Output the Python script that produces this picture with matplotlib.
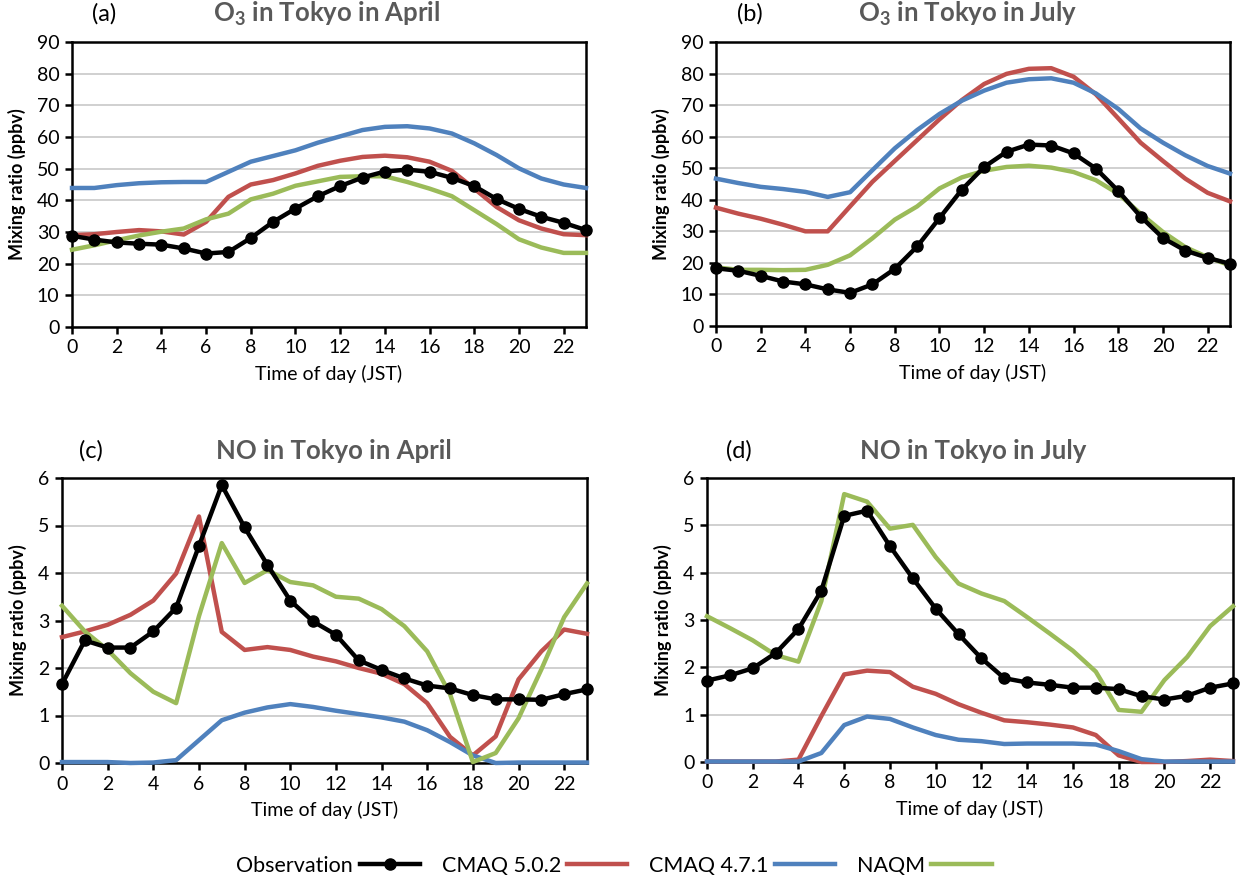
import matplotlib
matplotlib.use("Agg")
import matplotlib.pyplot as plt
from matplotlib.lines import Line2D

plt.rcParams['font.family'] = ['Lato', 'DejaVu Sans']
plt.rcParams['mathtext.fontset'] = 'custom'
plt.rcParams['mathtext.rm'] = 'Lato'
plt.rcParams['mathtext.bf'] = 'Lato:bold'

hours = list(range(24))

# (a) O3 April
obs_o3_apr = [28.8, 27.6, 26.7, 26.3, 26.0, 24.8, 23.2, 23.7, 28.1, 33.2, 37.4, 41.3,
              44.5, 47.2, 49.1, 49.7, 49.0, 47.1, 44.5, 40.4, 37.3, 34.8, 32.9, 30.6]
c502_o3_apr = [29.0, 29.3, 30.0, 30.6, 30.2, 29.2, 33.2, 41.1, 45.0, 46.4, 48.5, 50.9,
               52.5, 53.7, 54.1, 53.6, 52.2, 49.3, 43.7, 37.9, 33.7, 31.1, 29.3, 29.0]
c471_o3_apr = [43.9, 43.9, 44.8, 45.4, 45.7, 45.8, 45.8, 49.0, 52.2, 54.0, 55.8, 58.2,
               60.2, 62.2, 63.2, 63.4, 62.7, 61.1, 58.0, 54.3, 50.1, 46.9, 45.0, 43.9]
naqm_o3_apr = [24.4, 25.8, 27.4, 28.9, 30.1, 31.1, 34.0, 35.8, 40.3, 42.1, 44.6, 46.0,
               47.4, 47.6, 47.6, 45.8, 43.7, 41.3, 36.9, 32.5, 27.7, 25.1, 23.4, 23.4]

# (b) O3 July
obs_o3_jul = [18.3, 17.5, 15.9, 14.1, 13.2, 11.6, 10.5, 13.2, 18.1, 25.2, 34.2, 43.2,
              50.4, 55.2, 57.5, 57.2, 54.7, 49.9, 42.8, 34.7, 27.9, 23.9, 21.6, 19.7]
c502_o3_jul = [37.5, 35.6, 34.0, 32.1, 30.0, 30.0, 37.9, 45.7, 52.3, 58.9, 65.5, 71.6,
               76.7, 79.9, 81.5, 81.7, 79.0, 73.4, 65.8, 58.1, 52.3, 46.7, 42.2, 39.5]
c471_o3_jul = [46.7, 45.3, 44.1, 43.4, 42.5, 40.9, 42.4, 49.4, 56.3, 62.1, 67.2, 71.4,
               74.6, 77.1, 78.2, 78.5, 77.1, 73.7, 68.8, 62.6, 58.1, 54.1, 50.7, 48.3]
naqm_o3_jul = [18.6, 17.8, 17.8, 17.7, 17.8, 19.4, 22.4, 27.8, 33.7, 37.9, 43.6, 47.1,
               49.2, 50.4, 50.8, 50.2, 48.8, 46.2, 41.9, 35.6, 29.8, 25.0, 21.8, 19.2]

# (c) NO April
obs_no_apr = [1.66, 2.58, 2.43, 2.43, 2.77, 3.27, 4.57, 5.85, 4.96, 4.17, 3.42, 2.98,
              2.70, 2.16, 1.96, 1.78, 1.63, 1.57, 1.43, 1.34, 1.34, 1.33, 1.45, 1.55]
c502_no_apr = [2.65, 2.77, 2.91, 3.12, 3.42, 3.99, 5.19, 2.76, 2.38, 2.44, 2.38, 2.24,
               2.14, 2.00, 1.88, 1.66, 1.26, 0.55, 0.16, 0.56, 1.76, 2.35, 2.81, 2.72]
c471_no_apr = [0.02, 0.02, 0.02, 0.00, 0.01, 0.06, 0.48, 0.90, 1.06, 1.17, 1.24, 1.18,
               1.10, 1.03, 0.96, 0.87, 0.69, 0.44, 0.16, 0.00, 0.01, 0.01, 0.01, 0.01]
naqm_no_apr = [3.31, 2.77, 2.38, 1.89, 1.50, 1.26, 3.09, 4.63, 3.79, 4.06, 3.81, 3.74,
               3.50, 3.46, 3.24, 2.88, 2.35, 1.45, 0.02, 0.21, 0.94, 1.97, 3.07, 3.78]

# (d) NO July
obs_no_jul = [1.72, 1.83, 1.98, 2.30, 2.81, 3.62, 5.20, 5.31, 4.56, 3.88, 3.24, 2.70,
              2.19, 1.77, 1.68, 1.63, 1.57, 1.57, 1.54, 1.39, 1.32, 1.40, 1.57, 1.66]
c502_no_jul = [0.01, 0.01, 0.01, 0.01, 0.05, 0.97, 1.85, 1.93, 1.90, 1.59, 1.44, 1.22,
               1.04, 0.88, 0.84, 0.79, 0.73, 0.57, 0.14, 0.00, 0.00, 0.02, 0.05, 0.02]
c471_no_jul = [0.01, 0.01, 0.01, 0.01, 0.01, 0.19, 0.78, 0.96, 0.91, 0.73, 0.57, 0.47,
               0.44, 0.38, 0.39, 0.39, 0.39, 0.37, 0.23, 0.06, 0.01, 0.01, 0.01, 0.01]
naqm_no_jul = [3.08, 2.83, 2.57, 2.26, 2.12, 3.40, 5.66, 5.50, 4.93, 5.01, 4.33, 3.77,
               3.56, 3.40, 3.06, 2.71, 2.35, 1.91, 1.10, 1.06, 1.73, 2.22, 2.87, 3.29]

series_names = ["Observation", "CMAQ 5.0.2", "CMAQ 4.7.1", "NAQM"]
panel_letters = ["(a)", "(b)", "(c)", "(d)"]
panel_titles = [r"O$_\mathbf{3}$ in Tokyo in April", r"O$_\mathbf{3}$ in Tokyo in July",
                "NO in Tokyo in April", "NO in Tokyo in July"]
xlabel = "Time of day (JST)"
ylabel = "Mixing ratio (ppbv)"

C_OBS = "black"
C_502 = "#C0504D"
C_471 = "#4F81BD"
C_NAQM = "#9BBB59"

W, H = 1240, 877
fig = plt.figure(figsize=(W / 100, H / 100), dpi=100)

def rect(l, r, t, b):
    return [l / W, 1 - b / H, (r - l) / W, (b - t) / H]

panels = [
    dict(r=rect(72, 586, 42, 327), data=(obs_o3_apr, c502_o3_apr, c471_o3_apr, naqm_o3_apr),
         ylim=(0, 90), yt=range(0, 91, 10), letter_x=104, title_x=327, head_y=14),
    dict(r=rect(716, 1230, 42, 326), data=(obs_o3_jul, c502_o3_jul, c471_o3_jul, naqm_o3_jul),
         ylim=(0, 90), yt=range(0, 91, 10), letter_x=750, title_x=968, head_y=14),
    dict(r=rect(62, 587, 478, 763), data=(obs_no_apr, c502_no_apr, c471_no_apr, naqm_no_apr),
         ylim=(0, 6), yt=range(0, 7), letter_x=91, title_x=334, head_y=451),
    dict(r=rect(707, 1233, 478, 762), data=(obs_no_jul, c502_no_jul, c471_no_jul, naqm_no_jul),
         ylim=(0, 6), yt=range(0, 7), letter_x=739, title_x=973, head_y=451),
]

for i, p in enumerate(panels):
    ax = fig.add_axes(p["r"])
    obs, c502, c471, naqm = p["data"]
    ax.plot(hours, c502, color=C_502, lw=3.2, zorder=3, clip_on=False, solid_joinstyle='round')
    ax.plot(hours, c471, color=C_471, lw=3.2, zorder=3, clip_on=False, solid_joinstyle='round')
    ax.plot(hours, naqm, color=C_NAQM, lw=3.2, zorder=4, clip_on=False, solid_joinstyle='round')
    ax.plot(hours, obs, color=C_OBS, lw=3.2, marker='o', ms=8, zorder=5, clip_on=False)
    ax.set_xlim(0, 23)
    ax.set_ylim(*p["ylim"])
    ax.set_xticks(range(0, 23, 2))
    ax.set_yticks(list(p["yt"]))
    ax.yaxis.grid(True, color="#C8C8C8", lw=1.2)
    ax.set_axisbelow(True)
    for s in ax.spines.values():
        s.set_linewidth(1.8)
        s.set_color("black")
    ax.tick_params(axis='both', direction='out', length=5, width=1.8, labelsize=14,
                   colors='black', pad=4)
    ax.set_xlabel(xlabel, fontsize=14, labelpad=6)
    ax.set_ylabel(ylabel, fontsize=13, fontweight='bold', labelpad=8)
    fig.text(p["letter_x"] / W, 1 - p["head_y"] / H, panel_letters[i], fontsize=17,
             ha='center', va='center', color='black')
    fig.text(p["title_x"] / W, 1 - p["head_y"] / H, panel_titles[i], fontsize=18.5,
             fontweight='bold', ha='center', va='center', color='#595959')

handles = [
    Line2D([], [], color=C_OBS, lw=3.2, marker='o', ms=8),
    Line2D([], [], color=C_502, lw=3.2),
    Line2D([], [], color=C_471, lw=3.2),
    Line2D([], [], color=C_NAQM, lw=3.2),
]
fig.legend(handles, series_names, loc='center', bbox_to_anchor=(614 / W, 1 - 866 / H),
           ncol=4, frameon=False, markerfirst=False, fontsize=15.5, handlelength=2.8,
           handletextpad=0.3, columnspacing=1.0)

fig.savefig("out.png", dpi=100)
